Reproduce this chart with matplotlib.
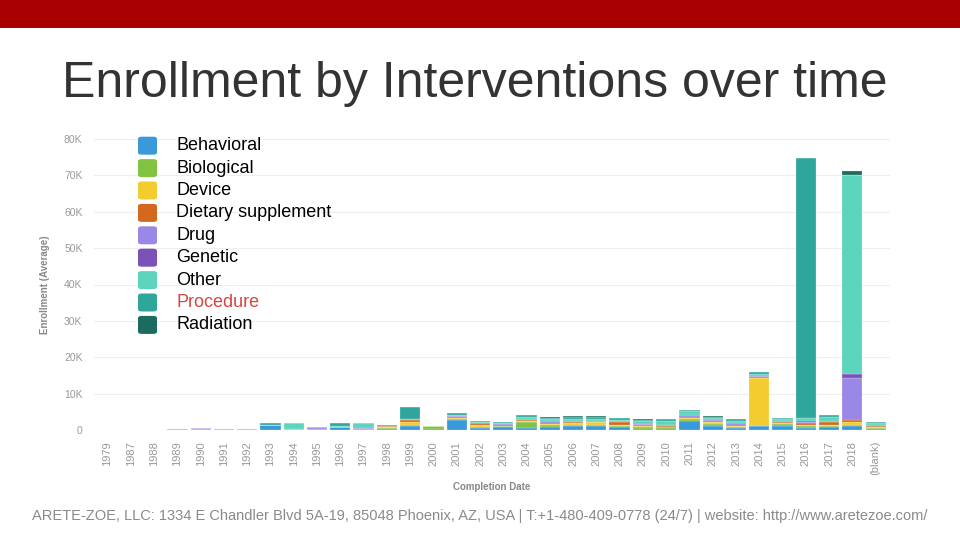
import matplotlib
matplotlib.use("Agg")
import matplotlib.pyplot as plt
from matplotlib.patches import FancyBboxPatch, Rectangle
import numpy as np

plt.rcParams['font.family'] = ['Liberation Sans', 'DejaVu Sans']

years = ["1979", "1987", "1988", "1989", "1990", "1991", "1992", "1993", "1994", "1995",
         "1996", "1997", "1998", "1999", "2000", "2001", "2002", "2003", "2004", "2005",
         "2006", "2007", "2008", "2009", "2010", "2011", "2012", "2013", "2014", "2015",
         "2016", "2017", "2018", "(blank)"]

categories = ["Behavioral", "Biological", "Device", "Dietary supplement", "Drug",
              "Genetic", "Other", "Procedure", "Radiation"]
colors = ["#3A9AD9", "#82C341", "#F3CD2F", "#D2691F", "#9B87E6",
          "#7A52B8", "#5DD5BD", "#2FA69B", "#1B6B5E"]

# values in thousands
behavioral = [0.05, 0.05, 0.05, 0.1, 0.3, 0.05, 0.05, 1.5, 0.2, 0.3,
              0.8, 0.3, 0.2, 1.0, 0.3, 2.7, 0.6, 0.7, 0.6, 0.8,
              1.0, 1.0, 0.7, 0.4, 0.4, 2.6, 1.2, 0.5, 1.0, 1.2,
              0.6, 0.7, 1.0, 0.3]
biological = [0, 0, 0, 0, 0, 0, 0, 0, 0, 0,
              0, 0, 0.3, 0.5, 0.7, 0.4, 0.3, 0.3, 1.5, 0.6,
              0.4, 0.5, 0.4, 0.4, 0.3, 0.4, 0.4, 0.3, 0.2, 0.4,
              0.4, 0.4, 0.5, 0.3]
device = [0, 0, 0, 0, 0, 0, 0, 0, 0, 0,
          0, 0, 0.4, 0.8, 0, 0.3, 0.6, 0.2, 0.4, 0.3,
          0.4, 0.6, 0.4, 0.3, 0.2, 0.4, 0.5, 0.4, 13.1, 0.3,
          0.5, 0.3, 0.6, 0.2]
dietary = [0, 0, 0, 0, 0, 0, 0, 0, 0, 0,
           0, 0, 0.2, 0.5, 0, 0.1, 0.3, 0, 0.3, 0.2,
           0.5, 0.2, 0.7, 0.2, 0.3, 0.2, 0.2, 0.2, 0.4, 0.2,
           0.4, 0.8, 0.6, 0.2]
drug = [0, 0, 0, 0.2, 0.3, 0.2, 0.2, 0, 0, 0.4,
        0, 0.3, 0.1, 0.3, 0, 0.3, 0.2, 0.4, 0.2, 0.6,
        0.3, 0.3, 0.3, 0.3, 0.3, 0.4, 0.4, 0.4, 0.1, 0.3,
        0.4, 0.4, 11.6, 0.5]
genetic = [0, 0, 0, 0, 0, 0, 0, 0, 0, 0,
           0, 0, 0, 0, 0, 0, 0, 0, 0, 0.1,
           0, 0, 0, 0, 0, 0, 0, 0, 0, 0,
           0.1, 0, 1.0, 0]
other = [0, 0, 0, 0, 0, 0, 0, 0, 1.8, 0,
         0.4, 1.2, 0, 0, 0, 0.4, 0.2, 0.3, 0.5, 0.3,
         0.3, 0.5, 0.3, 0.8, 1.0, 1.2, 0.5, 0.8, 0.6, 0.5,
         1.0, 0.9, 54.7, 0.5]
procedure = [0, 0, 0, 0, 0, 0, 0, 0.3, 0, 0,
             0.8, 0.2, 0.2, 3.2, 0.2, 0.5, 0.4, 0.4, 0.5, 0.5,
             0.6, 0.5, 0.4, 0.4, 0.4, 0.3, 0.5, 0.4, 0.5, 0.4,
             71.3, 0.5, 0.2, 0.3]
radiation = [0, 0, 0, 0, 0, 0, 0, 0, 0, 0,
             0, 0, 0, 0, 0, 0, 0, 0, 0.2, 0.1,
             0.3, 0.2, 0.1, 0.1, 0.1, 0.1, 0.1, 0.1, 0, 0.1,
             0, 0.2, 1.0, 0]

series = [behavioral, biological, device, dietary, drug, genetic, other, procedure, radiation]

fig = plt.figure(figsize=(9.6, 5.4), dpi=100)
fig.patch.set_facecolor("white")

# red banner
fig.patches.append(Rectangle((0, 1 - 28 / 540), 1, 28 / 540, transform=fig.transFigure,
                             facecolor="#A80000", edgecolor="none", zorder=0))

fig.text(475 / 960, 1 - 84 / 540, "Enrollment by Interventions over time",
         ha="center", va="center", fontsize=36, color="#333333")

ax = fig.add_axes([93.6 / 960, (540 - 430) / 540, 796 / 960, 291 / 540])
x = np.arange(len(years))
bottom = np.zeros(len(years))
for vals, col in zip(series, colors):
    v = np.array(vals) * 1000
    ax.bar(x, v, bottom=bottom, width=0.87, color=col, edgecolor="white", linewidth=0.15, zorder=3)
    bottom += v

ax.set_xlim(-0.6, len(years) - 0.4)
ax.set_ylim(0, 80000)
ax.set_yticks(np.arange(0, 80001, 10000))
ax.set_yticklabels(["0"] + [f"{k}K" for k in range(10, 81, 10)])
ax.set_xticks(x)
ax.set_xticklabels(years, rotation=90)
ax.grid(axis="y", color="#eeeeee", linewidth=0.8, zorder=0)
for s in ax.spines.values():
    s.set_visible(False)
ax.tick_params(axis="both", length=0, colors="#999999", labelsize=7.5)
ax.tick_params(axis="x", labelsize=8, pad=8)
ax.tick_params(axis="y", pad=8)
ax.set_ylabel("Enrollment (Average)", fontsize=7, color="#888888", fontweight="bold", labelpad=10)
ax.set_xlabel("Completion Date", fontsize=7, color="#888888", fontweight="bold", labelpad=5)

# legend
for i, (name, col) in enumerate(zip(categories, colors)):
    yc = 145.7 + i * 22.4
    fig.patches.append(FancyBboxPatch(((138) / 960, 1 - (yc + 9) / 540), 19 / 960, 18 / 540,
                                      boxstyle="round,pad=0,rounding_size=0.004",
                                      transform=fig.transFigure, facecolor=col,
                                      edgecolor="none", zorder=5))
    fig.text(176 / 960, 1 - yc / 540, name, ha="left", va="center", fontsize=13,
             color="#D64541" if name == "Procedure" else "#000000", zorder=6)

fig.text(480 / 960, 1 - 516 / 540,
         "ARETE-ZOE, LLC: 1334 E Chandler Blvd 5A-19, 85048 Phoenix, AZ, USA | T:+1-480-409-0778 (24/7) | website: http://www.aretezoe.com/",
         ha="center", va="center", fontsize=10.5, color="#8a8a8a")

fig.savefig("out.png", dpi=100, facecolor="white")
